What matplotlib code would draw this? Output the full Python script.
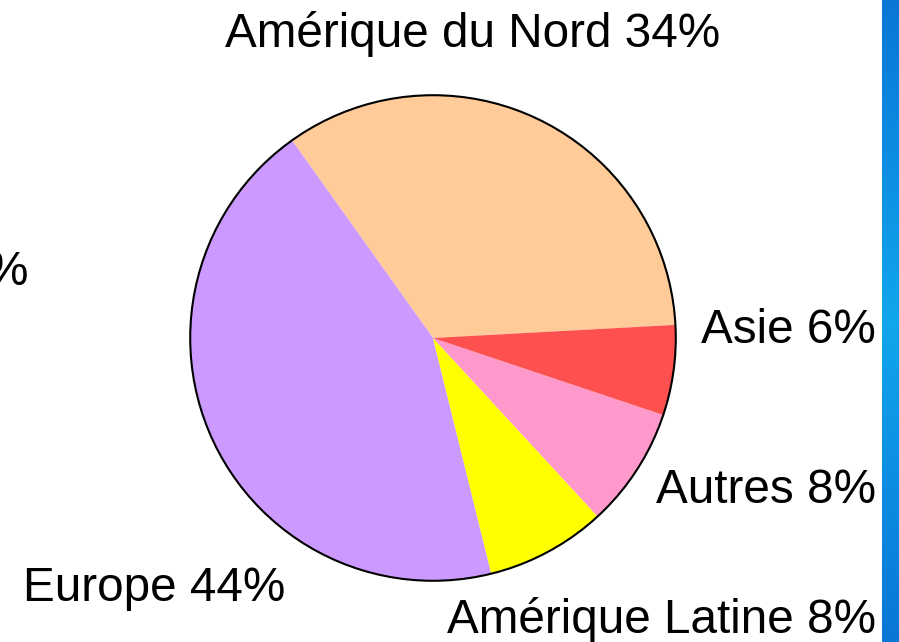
import numpy as np
import matplotlib.pyplot as plt
from matplotlib.patches import Circle
from matplotlib.colors import LinearSegmentedColormap

W, H = 899, 642

regions = ["Amérique du Nord", "Europe", "Amérique Latine", "Autres", "Asie"]
shares = [34, 44, 8, 8, 6]
colors = ["#FFCC99", "#CC99FF", "#FFFF00", "#FF99CC", "#FF5050"]

# label positions in pixels (x, baseline y, alignment)
label_pos = [
    (473, 47, "center"),
    (23, 601, "left"),
    (876, 633, "right"),
    (876, 503, "right"),
    (876, 343, "right"),
]


def px(x, y):
    return x / W, 1 - y / H


fig = plt.figure(figsize=(W / 100, H / 100), dpi=100)
fig.patch.set_facecolor("white")

# blue strip on the right
strip = fig.add_axes([882 / W, 0, (W - 882) / W, 1])
cmap = LinearSegmentedColormap.from_list(
    "strip", ["#0a76d6", "#0c8ee2", "#12a6ec", "#0c8ee2", "#0a76d6"])
grad = np.linspace(0, 1, 256).reshape(-1, 1)
strip.imshow(grad, aspect="auto", cmap=cmap, extent=[0, 1, 0, 1])
strip.set_axis_off()

# pie
cx, cy, r = 433, 338, 244
ax = fig.add_axes([(cx - r) / W, (H - cy - r) / H, 2 * r / W, 2 * r / H])
ax.pie(shares, colors=colors, startangle=3.1, counterclock=True,
       wedgeprops=dict(linewidth=0, antialiased=True), radius=1)
ax.add_patch(Circle((0, 0), 1, fill=False, edgecolor="black", linewidth=1.5))
ax.set_xlim(-1.005, 1.005)
ax.set_ylim(-1.005, 1.005)
ax.set_aspect("equal")
ax.set_axis_off()

font = dict(family=["Liberation Sans", "DejaVu Sans"], fontsize=34.3, color="black")
for name, val, (x, y, ha) in zip(regions, shares, label_pos):
    fx, fy = px(x, y)
    fig.text(fx, fy, f"{name} {val}%", ha=ha, va="baseline", **font)

# cut-off label at the left edge (as in the reference)
fx, fy = px(28, 285)
fig.text(fx, fy, "%", ha="right", va="baseline", **font)

fig.savefig("out.png", dpi=100)
